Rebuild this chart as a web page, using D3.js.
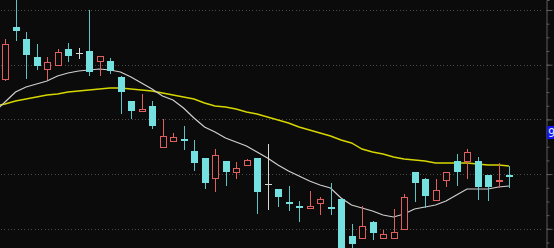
<!DOCTYPE html>
<html>
<head>
<meta charset="utf-8">
<script src="https://cdn.jsdelivr.net/npm/d3@7"></script>
<style>
  html, body { margin: 0; padding: 0; background: #0b0b0b; overflow: hidden; }
  svg { display: block; }
</style>
</head>
<body>
<svg id="chart" width="554" height="248"></svg>
<script>
// ---- data (prices) ----
const openP  = [9.70,10.23,10.11,9.93,9.80,9.84,10.01,9.97,9.99,9.88,9.89,9.73,9.49,9.38,9.44,9.02,9.08,9.11,8.99,8.92,8.71,8.89,8.77,8.84,8.92,8.66,8.61,8.48,8.44,8.41,8.46,8.43,8.51,8.14,8.11,8.28,8.11,8.11,8.20,8.78,8.71,8.49,8.69,8.89,8.88,8.89,8.75,8.68,8.75];
const highP  = [10.11,10.55,10.18,10.06,9.93,10.01,10.07,10.02,10.40,9.94,9.92,9.74,9.49,9.56,9.49,9.31,9.17,9.24,9.10,8.92,9.01,8.89,8.88,8.91,8.92,9.06,8.61,8.64,8.49,8.59,8.53,8.67,8.51,8.26,8.44,8.29,8.20,8.41,8.56,8.78,8.72,8.71,8.78,8.96,9.01,8.93,8.75,8.87,8.84];
const lowP   = [9.69,10.09,9.71,9.80,9.70,9.84,9.88,9.91,9.74,9.74,9.76,9.36,9.31,9.38,9.21,9.02,9.08,9.00,8.79,8.61,8.58,8.64,8.71,8.84,8.36,8.40,8.43,8.39,8.28,8.41,8.35,8.35,7.94,8.00,8.11,8.10,8.11,8.11,8.20,8.48,8.42,8.49,8.63,8.64,8.71,8.50,8.49,8.62,8.62];
const closeP = [10.06,10.19,9.95,9.84,9.88,9.98,9.94,9.97,9.78,9.94,9.79,9.58,9.39,9.41,9.24,9.14,9.13,9.09,8.87,8.67,8.95,8.78,8.82,8.90,8.58,8.66,8.53,8.46,8.42,8.44,8.51,8.41,7.98,8.06,8.24,8.17,8.16,8.18,8.53,8.67,8.54,8.60,8.78,8.78,8.98,8.63,8.63,8.70,8.73];
// moving averages: first value belongs to the bar just left of the window
const maShort = [9.38,9.48,9.58,9.63,9.66,9.69,9.74,9.77,9.79,9.80,9.81,9.80,9.78,9.73,9.67,9.61,9.54,9.50,9.42,9.32,9.23,9.18,9.12,9.08,9.04,8.98,8.92,8.85,8.79,8.74,8.69,8.65,8.62,8.52,8.45,8.42,8.39,8.35,8.33,8.36,8.41,8.43,8.45,8.49,8.55,8.61,8.61,8.61,8.63,8.64];
const maLong  = [9.44,9.46,9.49,9.51,9.53,9.55,9.56,9.58,9.59,9.60,9.61,9.62,9.62,9.61,9.60,9.59,9.57,9.55,9.53,9.51,9.47,9.44,9.43,9.41,9.38,9.36,9.33,9.30,9.27,9.23,9.20,9.17,9.14,9.10,9.07,9.01,8.98,8.96,8.93,8.91,8.90,8.89,8.87,8.87,8.87,8.87,8.86,8.85,8.85,8.84];
const gridValues = [10.40, 9.853, 9.306, 8.759, 8.212];
const priceTag = "9";

// ---- scales ----
const W = 554, H = 248;
const x = d3.scaleLinear().domain([0, openP.length - 1]).range([5, 509]);
const y = d3.scaleLinear().domain([10.50, 8.02]).range([0, H]);
const axisX = 546;

const svg = d3.select("#chart");
svg.append("rect").attr("width", W).attr("height", H).attr("fill", "#0b0b0b");

// grid
svg.append("g").selectAll("line").data(gridValues).join("line")
  .attr("x1", 1).attr("x2", axisX - 3)
  .attr("y1", d => Math.round(y(d)) + 0.5).attr("y2", d => Math.round(y(d)) + 0.5)
  .attr("stroke", "#4c4c4c").attr("stroke-width", 1)
  .attr("stroke-dasharray", "1,2.35").attr("shape-rendering", "crispEdges");

// right axis
const step = (gridValues[0] - gridValues[1]) / 4;
const minorTicks = d3.range(gridValues[0] + step * 4, gridValues[gridValues.length - 1] - step * 4, -step)
  .map(v => Math.round(v * 10000) / 10000);
const axis = d3.axisRight(y).tickValues(minorTicks).tickFormat("").tickSize(3);
const ag = svg.append("g").attr("transform", `translate(${axisX + 0.5},0)`).call(axis);
ag.select(".domain").attr("stroke", "#5c5c5c");
ag.selectAll(".tick line").attr("stroke", "#5c5c5c");
const majorAxis = d3.axisRight(y).tickValues(gridValues).tickFormat("").tickSize(6);
const mg = svg.append("g").attr("transform", `translate(${axisX + 0.5},0)`).call(majorAxis);
mg.select(".domain").remove();
mg.selectAll(".tick line").attr("stroke", "#5c5c5c");

// moving averages
const line = d3.line().x((d, i) => x(i - 1)).y(d => y(d));
svg.append("path").datum(maLong).attr("d", line)
  .attr("fill", "none").attr("stroke", "#d6d600").attr("stroke-width", 1.4);
svg.append("path").datum(maShort).attr("d", line)
  .attr("fill", "none").attr("stroke", "#cfcfcf").attr("stroke-width", 1.2);

// candles
const bars = openP.map((o, i) => ({ i, o, h: highP[i], l: lowP[i], c: closeP[i] }));
const UP = "#e0605f", DOWN = "#74e0e0", DOWNW = "#5cc4c4", FLAT = "#d8d8d8";
const g = svg.append("g");
bars.forEach(b => {
  const cx = Math.round(x(b.i));
  const left = cx - 3;
  const col = b.c > b.o ? UP : (b.c < b.o ? DOWN : FLAT);
  const wcol = b.c < b.o ? DOWNW : col;
  g.append("line")
    .attr("x1", cx + 0.5).attr("x2", cx + 0.5)
    .attr("y1", y(b.h)).attr("y2", y(b.l))
    .attr("stroke", wcol).attr("stroke-width", 1);
  const top = Math.round(y(Math.max(b.o, b.c)));
  const bot = Math.round(y(Math.min(b.o, b.c)));
  if (b.c > b.o) {
    g.append("rect").attr("x", left + 0.5).attr("y", top + 0.5)
      .attr("width", 6).attr("height", Math.max(1, bot - top - 1))
      .attr("fill", "#0b0b0b").attr("stroke", UP).attr("stroke-width", 1);
  } else if (b.c < b.o) {
    g.append("rect").attr("x", left).attr("y", top)
      .attr("width", 7).attr("height", Math.max(2, bot - top))
      .attr("fill", DOWN);
  } else {
    g.append("line").attr("x1", left).attr("x2", left + 7)
      .attr("y1", top + 0.5).attr("y2", top + 0.5)
      .attr("stroke", FLAT).attr("stroke-width", 1);
  }
});

// price tag on axis
svg.append("rect").attr("x", axisX + 1).attr("y", 126).attr("width", W - axisX - 1).attr("height", 13)
  .attr("fill", "#1414f0");
svg.append("text").attr("x", axisX + 2).attr("y", 137)
  .attr("font-family", "DejaVu Sans Mono, monospace").attr("font-size", 12)
  .attr("fill", "#d8e4ff").text(priceTag);
</script>
</body>
</html>
